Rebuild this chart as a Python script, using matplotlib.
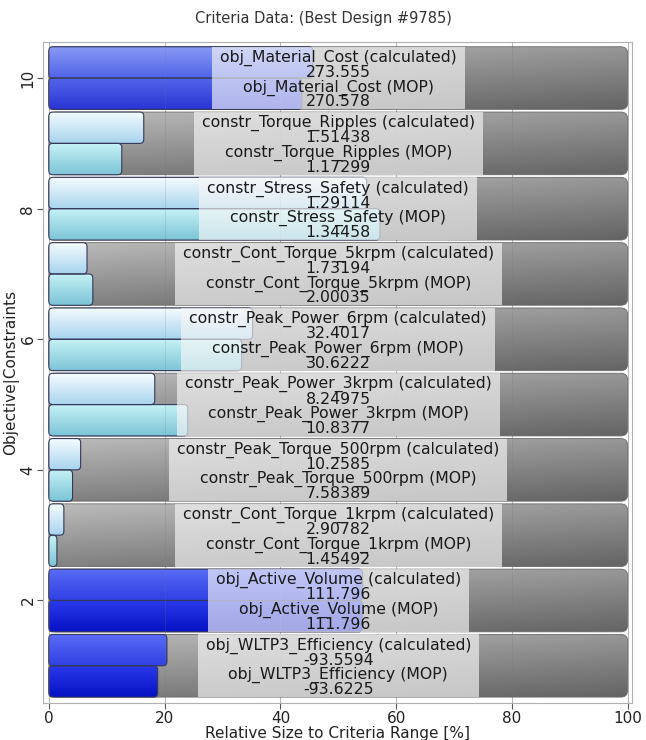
import numpy as np
import matplotlib
matplotlib.use('Agg')
import matplotlib.pyplot as plt
from matplotlib.patches import FancyBboxPatch, Rectangle
from matplotlib.colors import to_rgb

# criteria, top row (10) first
names = ['obj_Material_Cost', 'constr_Torque_Ripples', 'constr_Stress_Safety',
         'constr_Cont_Torque_5krpm', 'constr_Peak_Power_6rpm', 'constr_Peak_Power_3krpm',
         'constr_Peak_Torque_500rpm', 'constr_Cont_Torque_1krpm', 'obj_Active_Volume',
         'obj_WLTP3_Efficiency']
calc_values = ['273.555', '1.51438', '1.29114', '1.73194', '32.4017', '8.24975',
               '10.2585', '2.90782', '111.796', '-93.5594']
mop_values = ['270.578', '1.17299', '1.34458', '2.00035', '30.6222', '10.8377',
              '7.58389', '1.45492', '111.796', '-93.6225']
# relative size to criteria range [%]
calc_pct = [45.6, 16.4, 54.9, 6.6, 35.2, 18.3, 5.5, 2.6, 54.2, 20.4]
mop_pct = [43.7, 12.6, 57.2, 7.6, 33.3, 24.0, 4.1, 1.4, 54.2, 18.8]
rows = list(range(10, 0, -1))

fig = plt.figure(figsize=(6.46, 7.4), dpi=100)
ax = fig.add_axes([0.0666, 0.05, 0.9114, 0.893])
ax.set_xlim(-1, 100.7)
ax.set_ylim(0.43, 10.55)

# pixel aspect for rounded corners (y units per x unit)
asp = (5.79 / 65.4)
H = 0.48


def gradient(ax, x0, x1, y0, y1, top, bot, clip, z, left=None, right=None):
    ny, nx = 40, 60
    t = np.linspace(0, 1, ny)[:, None, None]
    ctop = np.array(to_rgb(top))
    cbot = np.array(to_rgb(bot))
    img = ctop * (1 - t) + cbot * t
    img = np.repeat(img, nx, axis=1)
    if left is not None:
        s = np.linspace(0, 1, nx)[None, :, None]
        img = img * (1 - s * right) + left * (1 - s)
        img = np.clip(img, 0, 1)
    im = ax.imshow(img, extent=[x0, x1, y0, y1], origin='upper', aspect='auto',
                   zorder=z, interpolation='bilinear')
    im.set_clip_path(clip)


# background boxes
for y in rows:
    box = FancyBboxPatch((0, y - H), 100, 2 * H,
                         boxstyle='round,pad=0,rounding_size=1.2', mutation_aspect=asp,
                         fc='none', ec='#6a6a6a', lw=0.6, zorder=1.6)
    ax.add_patch(box)
    gradient(ax, 0, 100, y - H, y + H, '#acacac', '#727272', box, 1.5,
             left=0.06, right=0.12)

# bars
for y, name, c, m in zip(rows, names, calc_pct, mop_pct):
    if name.startswith('obj'):
        if y == 10:
            cols = [('#8a9af4', '#5064ea'), ('#5566ea', '#2a36d6')]
        else:
            cols = [('#5a6cf6', '#3040e4'), ('#2a3aea', '#0612c4')]
    else:
        cols = [('#f6fcff', '#a8d4ee'), ('#c6f2f6', '#7cc4d6')]
    for (v, yy), (ct, cb) in zip([(c, y), (m, y - H)], cols):
        bar = FancyBboxPatch((0, yy), v, H,
                             boxstyle='round,pad=0,rounding_size=0.7', mutation_aspect=asp,
                             fc='none', ec='#35385a', lw=0.8, zorder=2.6)
        ax.add_patch(bar)
        gradient(ax, 0, v, yy, yy + H, ct, cb, bar, 2.5)

# labels
offs = [0.31, 0.085, -0.145, -0.365]
texts = []
for y, name, cv, mv in zip(rows, names, calc_values, mop_values):
    lines = [name + ' (calculated)', cv, name + ' (MOP)', mv]
    tt = []
    for o, s in zip(offs, lines):
        tt.append(ax.text(50, y + o, s, ha='center', va='center', fontsize=11.3,
                          color='#1a1a1a', zorder=5))
    texts.append((y, tt))

fig.canvas.draw()
for y, tt in texts:
    w = max(t.get_window_extent().width for t in tt)
    dx = (w / 2 + 8) / 5.79
    ax.add_patch(Rectangle((50 - dx, y - H), 2 * dx, 2 * H, fc='#f6f6f6', alpha=0.66,
                           ec='none', zorder=3))

# grid
for gx in range(0, 101, 20):
    ax.axvline(gx, color='#c8c8c8', lw=0.8, zorder=0.5)
    ax.axvline(gx, color='#777777', lw=0.7, alpha=0.2, zorder=2.8)

ax.set_xticks(range(0, 101, 20))
ax.set_yticks([2, 4, 6, 8, 10])
ax.set_yticklabels(['2', '4', '6', '8', '10'], rotation=90, va='center')
ax.tick_params(labelsize=11, colors='#222222', length=4, color='#555555', pad=1.5)
for sp in ax.spines.values():
    sp.set_color('#b0b0b0')

ax.set_xlabel('Relative Size to Criteria Range [%]', fontsize=11, color='#222222', labelpad=0)
ax.set_ylabel('Objective|Constraints', fontsize=11, color='#222222', labelpad=1)
fig.suptitle('Criteria Data: (Best Design #9785)', y=0.985, fontsize=10.5, color='#333333')

fig.savefig('out.png', dpi=100)
